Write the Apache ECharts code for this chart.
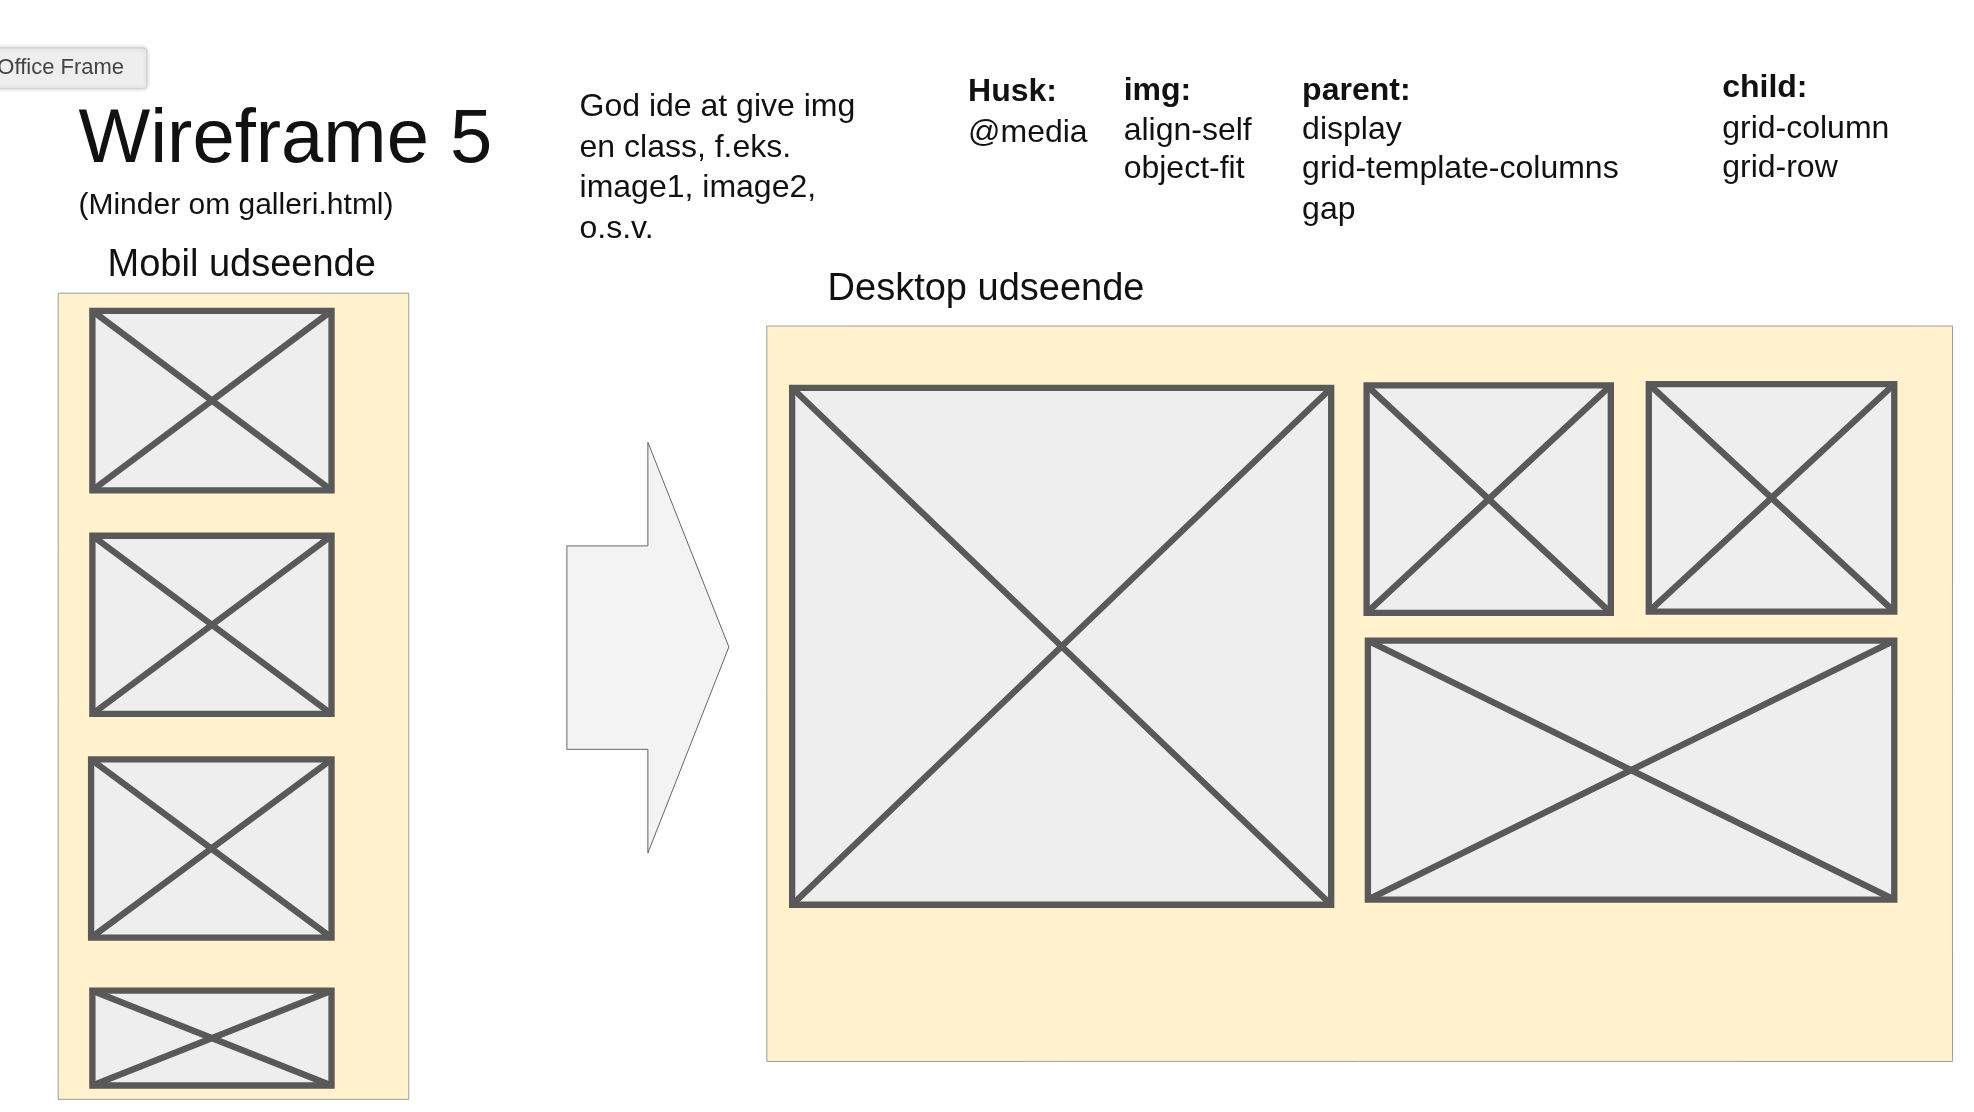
<!DOCTYPE html>
<html><head><meta charset="utf-8">
<script src="https://cdn.jsdelivr.net/npm/echarts@6/dist/echarts.min.js"></script>
<style>html,body{margin:0;background:#fff}#chart{width:1974px;height:1112px}</style>
</head><body><div id="chart"></div>
<script>
// layout units follow the slide (1560 x 880), scaled onto the page by the axes
const W = 1560, H = 880
const S = 1974 / W

const panels = [[46, 232, 323, 870], [606, 258, 1543, 840]]
const imageBoxes = [
  [73, 246, 262, 388], [73, 424, 262, 565], [72, 601, 262, 742], [73, 784, 262, 859],
  [626, 307, 1052, 716], [1080, 305, 1273, 485], [1303, 304, 1497, 484], [1081, 507, 1497, 712]
]
const arrowPts = [[448, 432], [512, 432], [512, 350], [576, 512], [512, 675], [512, 593], [448, 593]]
// [x, y (middle), text, size, bold]
const texts = [
  [62, 112, 'Wireframe 5', 60, 0],
  [62, 163, '(Minder om galleri.html)', 24, 0],
  [85, 210, 'Mobil udseende', 30, 0],
  [654, 229, 'Desktop udseende', 30, 0],
  [458, 85, 'God ide at give img', 25, 0],
  [458, 117, 'en class, f.eks.', 25, 0],
  [458, 149, 'image1, image2,', 25, 0],
  [458, 181, 'o.s.v.', 25, 0],
  [765, 73, 'Husk:', 25, 1],
  [765, 105, '@media', 25, 0],
  [888, 72, 'img:', 25, 1],
  [888, 104, 'align-self', 25, 0],
  [888, 134, 'object-fit', 25, 0],
  [1029, 72, 'parent:', 25, 1],
  [1029, 103, 'display', 25, 0],
  [1029, 134, 'grid-template-columns', 25, 0],
  [1029, 166, 'gap', 25, 0],
  [1361, 70, 'child:', 25, 1],
  [1361, 102, 'grid-column', 25, 0],
  [1361, 133, 'grid-row', 25, 0]
]

function rectShape(api) {
  const a = api.coord([api.value(0), api.value(1)])
  const b = api.coord([api.value(2), api.value(3)])
  return { x: a[0], y: a[1], width: b[0] - a[0], height: b[1] - a[1], a, b }
}

const chart = echarts.init(document.getElementById('chart'))
chart.setOption({
  backgroundColor: '#fff',
  animation: false,
  grid: { left: 0, right: 0, top: 0, bottom: 0 },
  xAxis: { type: 'value', min: 0, max: W, show: false },
  yAxis: { type: 'value', min: 0, max: H, inverse: true, show: false },
  series: [
    {
      type: 'custom', data: panels,
      renderItem: function (p, api) {
        const r = rectShape(api)
        return { type: 'rect', shape: { x: r.x, y: r.y, width: r.width, height: r.height },
          style: { fill: '#fff2cc', stroke: '#9e9e9e', lineWidth: 1 } }
      }
    },
    {
      type: 'custom', data: [0],
      renderItem: function (p, api) {
        return { type: 'polygon', shape: { points: arrowPts.map(function (q) { return api.coord(q) }) },
          style: { fill: '#f3f3f3', stroke: '#666', lineWidth: 1 } }
      }
    },
    {
      type: 'custom', data: imageBoxes,
      renderItem: function (p, api) {
        const r = rectShape(api)
        const st = { stroke: '#595959', lineWidth: 5 * S }
        return { type: 'group', children: [
          { type: 'rect', shape: { x: r.x, y: r.y, width: r.width, height: r.height }, style: Object.assign({ fill: '#eeeeee' }, st) },
          { type: 'line', shape: { x1: r.a[0], y1: r.a[1], x2: r.b[0], y2: r.b[1] }, style: st },
          { type: 'line', shape: { x1: r.a[0], y1: r.b[1], x2: r.b[0], y2: r.a[1] }, style: st }
        ] }
      }
    },
    {
      type: 'custom', data: [[-10, 38, 116, 70]],
      renderItem: function (p, api) {
        const r = rectShape(api)
        return { type: 'group', children: [
          { type: 'rect', shape: { x: r.x, y: r.y, width: r.width, height: r.height, r: 3 },
            style: { fill: '#eeeeee', stroke: '#d0d0d0', lineWidth: 1, shadowBlur: 4, shadowColor: 'rgba(0,0,0,0.2)' } },
          { type: 'text', x: r.x + 10, y: (r.a[1] + r.b[1]) / 2,
            style: { text: 'Office Frame', font: Math.round(17 * S) + 'px "Liberation Sans"', fill: '#444', textVerticalAlign: 'middle' } }
        ] }
      }
    },
    {
      type: 'custom', data: texts,
      renderItem: function (p, api) {
        const t = texts[p.dataIndex]
        const c = api.coord([t[0], t[1]])
        return { type: 'text', x: c[0], y: c[1],
          style: { text: t[2], fill: '#111', textVerticalAlign: 'middle',
            font: (t[4] ? 'bold ' : '') + Math.round(t[3] * S) + 'px "Liberation Sans", Arial' } }
      }
    }
  ]
})
</script></body></html>
